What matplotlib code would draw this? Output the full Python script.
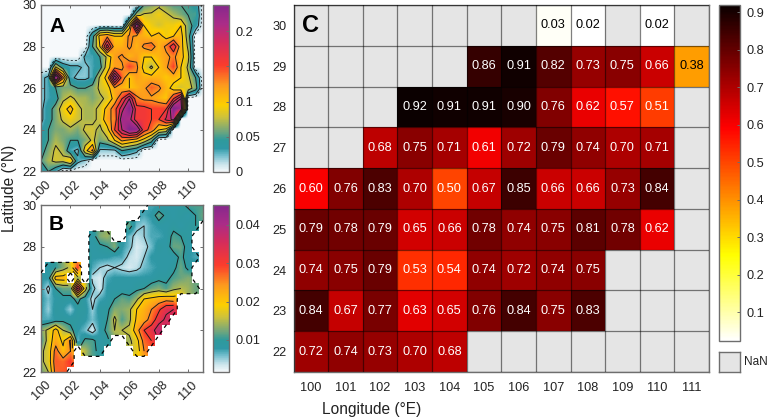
import numpy as np
import matplotlib
matplotlib.use("Agg")
import matplotlib.pyplot as plt
from matplotlib.colors import LinearSegmentedColormap

plt.rcParams['font.family'] = ['Liberation Sans', 'DejaVu Sans']

W, H = 768, 419
n = np.nan

# grid of the two maps
lon = np.arange(100, 111.01, 0.5)
lat = np.arange(30, 21.99, -0.5)

# panel A, in units of 0.01, north row first
map_a = [
    [0,0,0,0,0,0,0,0,0,0,0,0,0,0,5,6,7,6,5,5,5,4,0],
    [0,0,0,0,0,0,0,0,0,0,0,0,0,7,8,8,9,8,7,6,5,5,0],
    [0,0,0,0,0,0,0,0,0,0,0,0,9,23,10,9,8,9,9,10,6,4,0],
    [0,0,0,0,0,0,0,4,11,12,10,10,13,12,11,10,11,9,10,11,6,0,0],
    [0,0,0,0,0,0,0,5,10,19,11,11,13,11,13,14,11,13,17,11,7,0,0],
    [0,0,0,0,0,0,3,3,5,8,12,13,11,12,10,10,11,12,13,11,8,0,0],
    [0,0,8,4,3,3,2,3,4,9,12,12,15,13,9,7,10,12,15,10,7,0,0],
    [2,3,24,13,3,2,2,3,8,11,22,14,10,12,11,11,11,10,11,10,8,5,0],
    [2,3,5,6,6,5,5,6,8,9,12,11,10,11,12,14,13,11,9,8,9,6,0],
    [2,3,4,7,8,7,7,6,7,8,11,15,20,13,12,12,11,10,15,20,0,0,0],
    [2,4,6,9,11,8,7,7,8,11,14,19,24,16,16,15,15,15,24,22,0,0,0],
    [2,4,6,8,9,8,7,7,8,12,13,22,21,16,16,15,15,18,21,0,0,0,0],
    [3,5,6,6,7,6,8,8,7,9,15,20,24,23,16,14,10,9,0,0,0,0,0],
    [4,5,7,6,5,5,6,8,6,7,10,13,12,11,9,6,0,0,0,0,0,0,0],
    [4,6,8,7,3,2,9,13,2,2,2,5,4,3,0,0,0,0,0,0,0,0,0],
    [5,7,8,8,10,3,2,0,0,0,0,0,0,0,0,0,0,0,0,0,0,0,0],
    [3,5,3,0,0,0,0,0,0,0,0,0,0,0,0,0,0,0,0,0,0,0,0],
]

# panel B, in units of 0.001, north row first
map_b = [
    [n,n,n,n,n,n,n,n,n,n,n,n,n,n,n,7,7,8,8,9,11,11,11],
    [n,n,n,n,n,n,n,n,n,n,n,n,n,n,7,8,12,9,8,9,8,10,12],
    [n,n,n,n,n,n,n,n,n,n,n,n,12,6,5,7,8,8,9,8,9,10,n],
    [n,n,n,n,n,n,n,8,13,14,n,n,6,4,5,7,7,8,11,10,9,n,n],
    [n,n,n,n,n,n,n,8,9,10,13,8,6,3,4,6,9,8,12,12,8,n,n],
    [n,n,n,n,n,n,n,8,8,8,7,7,4,3,5,8,8,8,8,11,8,7,n],
    [n,8,10,13,16,30,n,7,5,4,5,4,3,4,6,7,8,8,9,12,9,n,n],
    [8,8,22,22,n,13,n,4,3,7,8,8,8,8,8,8,9,9,11,12,13,n,n],
    [8,4,10,12,12,36,17,6,3,8,8,8,8,9,10,12,13,11,14,15,14,12,n],
    [8,6,8,9,9,11,8,4,7,8,10,12,11,14,20,21,22,23,22,n,n,n,n],
    [8,5,9,8,5,9,9,5,9,9,13,13,14,20,22,25,29,34,35,n,n,n,n],
    [7,7,8,9,9,9,8,6,8,10,16,11,14,21,23,27,33,36,n,n,n,n,n],
    [13,16,22,15,11,8,6,3,8,11,15,15,16,23,30,33,38,n,n,n,n,n,n],
    [10,17,23,19,26,6,11,11,8,9,n,n,14,18,27,30,n,n,n,n,n,n,n],
    [14,17,27,21,25,n,15,11,9,n,n,n,n,17,25,n,n,n,n,n,n,n,n],
    [14,17,28,27,30,n,n,n,n,n,n,n,n,n,n,n,n,n,n,n,n,n,n],
    [12,15,27,28,n,n,n,n,n,n,n,n,n,n,n,n,n,n,n,n,n,n,n],
]

# panel C
cell_lon = [100, 101, 102, 103, 104, 105, 106, 107, 108, 109, 110, 111]
cell_lat = [30, 29, 28, 27, 26, 25, 24, 23, 22]
cell_val = [
    [n, n, n, n, n, n, n, .03, .02, n, .02, n],
    [n, n, n, n, n, .86, .91, .82, .73, .75, .66, .38],
    [n, n, n, .92, .91, .91, .90, .76, .62, .57, .51, n],
    [n, n, .68, .75, .71, .61, .72, .79, .74, .70, .71, n],
    [.60, .76, .83, .70, .50, .67, .85, .66, .66, .73, .84, n],
    [.79, .78, .79, .65, .66, .78, .74, .75, .81, .78, .62, n],
    [.74, .75, .79, .53, .54, .74, .72, .74, .75, n, n, n],
    [.84, .67, .77, .63, .65, .76, .84, .75, .83, n, n, n],
    [.72, .74, .73, .70, .68, n, n, n, n, n, n, n],
]

map_ticks_x = [100, 102, 104, 106, 108, 110]
map_ticks_y = [22, 24, 26, 28, 30]
cbar_a_ticks = [0, 0.05, 0.1, 0.15, 0.2]
cbar_b_ticks = [0.01, 0.02, 0.03, 0.04]
cbar_c_ticks = [0.1, 0.2, 0.3, 0.4, 0.5, 0.6, 0.7, 0.8, 0.9]

edge = '#6e6e6e'
nan_grey = '#e5e5e5'
txt = '#222222'

cmap_map = LinearSegmentedColormap.from_list('map', [
    (0.00, '#f6f9fb'), (0.05, '#c4e2ea'), (0.10, '#6fbccb'), (0.14, '#2f98a6'), (0.19, '#2f9a9c'),
    (0.25, '#79a878'), (0.33, '#cfc23a'), (0.40, '#fdd000'), (0.52, '#fd9a1e'),
    (0.64, '#fb3c2c'), (0.78, '#d42c5c'), (0.89, '#aa2c88'), (1.00, '#86288c')])
cmap_c = plt.get_cmap('hot_r').copy()


def add_axes(x0, y0, x1, y1):
    # pixel box of the reference, y from the top
    return fig.add_axes([x0 / W, 1 - y1 / H, (x1 - x0) / W, (y1 - y0) / H])


def style(ax):
    for s in ax.spines.values():
        s.set_color(edge)
        s.set_linewidth(1.0)


def fill_gaps(z):
    # cells outside the region take the mean of their valid neighbours, only so
    # that the bilinear image does not erode at the coast
    out = z.copy()
    for _ in range(2):
        src = out.copy()
        for i, j in zip(*np.where(np.isnan(src))):
            near = src[max(i - 1, 0):i + 2, max(j - 1, 0):j + 2]
            if np.isfinite(near).any():
                out[i, j] = np.nanmean(near)
    return np.nan_to_num(out, nan=0.01)


def draw_map(ax, z, vmin, vmax, letter, letter_y):
    im = ax.imshow(z, cmap=cmap_map, vmin=vmin, vmax=vmax, interpolation='bilinear',
                   extent=[99.75, 111.25, 21.75, 30.25], aspect='auto', zorder=1)
    ax.set_xlim(100, 111)
    ax.set_ylim(22, 30)
    ax.set_xticks(map_ticks_x)
    ax.set_yticks(map_ticks_y)
    ax.set_xticklabels(map_ticks_x, rotation=45, ha='center', fontsize=9.2, color=txt)
    ax.set_yticklabels(map_ticks_y, fontsize=9.2, color=txt)
    ax.tick_params(length=2, width=0.7, color=edge, direction='in', top=True, right=True)
    ax.tick_params(axis='x', pad=5)
    ax.tick_params(axis='y', pad=3)
    ax.text(100.55, letter_y, letter, fontsize=15, fontweight='bold', va='center', zorder=5)
    style(ax)
    return im


def draw_cbar(im, box, ticks, labels):
    cax = add_axes(*box)
    cb = fig.colorbar(im, cax=cax, ticks=ticks)
    cb.ax.set_yticklabels(labels, fontsize=9.2, color=txt)
    cb.ax.tick_params(length=2, width=0.7, color=edge, direction='in', pad=5)
    cb.outline.set_edgecolor(edge)
    cb.outline.set_linewidth(1.0)
    return cb


fig = plt.figure(figsize=(W / 100, H / 100), dpi=100)

# A
za = np.array(map_a, dtype=float) * 0.01
ax_a = add_axes(41, 5, 203, 171.5)
im_a = draw_map(ax_a, za, 0, 0.237, 'A', 28.95)
ax_a.contour(lon, lat, za, levels=[0.025, 0.05, 0.075, 0.1, 0.125, 0.15, 0.175, 0.2],
             colors='#1c1c1c', linewidths=0.7, zorder=2)
ax_a.contour(lon, lat, za, levels=[0.01], colors='black', linewidths=0.5,
             linestyles=[(0, (3, 3))], zorder=3)
draw_cbar(im_a, (213, 5, 229, 172), cbar_a_ticks, ['0', '0.05', '0.1', '0.15', '0.2'])

# B
zb = np.array(map_b, dtype=float) * 0.001
ax_b = add_axes(41, 205, 203, 372)
im_b = draw_map(ax_b, fill_gaps(zb), 0.0016, 0.0452, 'B', 29.05)
ax_b.contour(lon, lat, zb, levels=[0.005, 0.01, 0.015, 0.02, 0.025, 0.03, 0.035, 0.04],
             colors='#1c1c1c', linewidths=0.7, zorder=2)
# white cells outside the region, blocky like the source
blank = np.zeros(zb.shape + (4,))
blank[np.isnan(zb)] = [1, 1, 1, 1]
ax_b.imshow(blank, interpolation='nearest', extent=[99.75, 111.25, 21.75, 30.25],
            aspect='auto', zorder=1.5)
ax_b.set_xlim(100, 111)
ax_b.set_ylim(22, 30)
ax_b.contour(lon, lat, np.isfinite(zb).astype(float), levels=[0.5], colors='black',
             linewidths=0.9, linestyles=[(0, (3, 3))], zorder=3)
draw_cbar(im_b, (213, 205, 229, 372), cbar_b_ticks, ['0.01', '0.02', '0.03', '0.04'])

# C
zc = np.array(cell_val, dtype=float)
xe = np.arange(len(cell_lon) + 1)
ye = np.arange(len(cell_lat) + 1)
ax_c = add_axes(293.5, 5, 709, 372)
ax_c.set_facecolor(nan_grey)
im_c = ax_c.pcolormesh(xe, ye, np.ma.masked_invalid(zc), cmap=cmap_c, vmin=0.0227, vmax=0.919)
ax_c.invert_yaxis()
ax_c.set_xticks(xe[:-1] + 0.5)
ax_c.set_yticks(ye[:-1] + 0.5)
ax_c.set_xticks(xe, minor=True)
ax_c.set_yticks(ye, minor=True)
ax_c.grid(which='minor', color='black', alpha=0.5, linewidth=0.9)
ax_c.set_axisbelow(False)
ax_c.set_xticklabels(cell_lon, fontsize=9.2, color=txt)
ax_c.set_yticklabels(cell_lat, fontsize=9.2, color=txt)
ax_c.tick_params(which='both', length=0)
ax_c.tick_params(axis='x', pad=7)
ax_c.tick_params(axis='y', pad=5)
style(ax_c)
for i, la in enumerate(cell_lat):
    for j, lo in enumerate(cell_lon):
        v = zc[i, j]
        if np.isfinite(v):
            col = 'black' if v < 0.45 else 'white'
            ax_c.text(j + 0.5, i + 0.5, f'{v:.2f}', ha='center', va='center', fontsize=9.2, color=col)
ax_c.text(0.5, 0.5, 'C', fontsize=17, fontweight='bold', ha='center', va='center')

draw_cbar(im_c, (719, 5, 740, 341), cbar_c_ticks, [str(t) for t in cbar_c_ticks])

# NaN box
ax_nan = add_axes(719, 351.5, 740, 372)
ax_nan.set_facecolor(nan_grey)
ax_nan.set_xticks([])
ax_nan.set_yticks([])
style(ax_nan)
ax_nan.text(744 / W, 1 - 361.5 / H, 'NaN', transform=fig.transFigure, fontsize=8.5, va='center', color=txt)

fig.text(10 / W, 1 - 188 / H, 'Latitude (°N)', rotation=90, fontsize=11.2, ha='center', va='center', color=txt)
fig.text(372 / W, 1 - 409 / H, 'Longitude (°E)', fontsize=11.2, ha='center', va='center', color=txt)

fig.savefig('out.png', dpi=100)
